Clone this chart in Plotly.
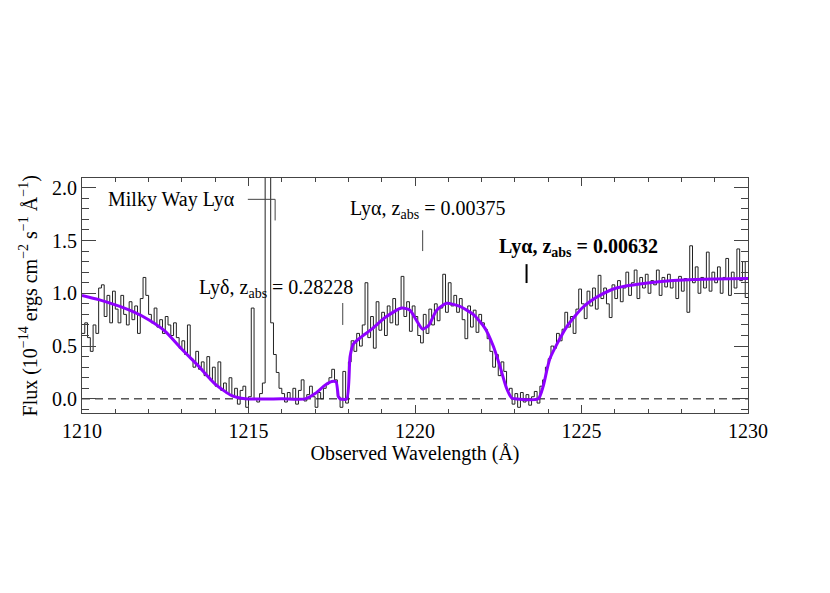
import numpy as np
import plotly.graph_objects as go

# ---------------- data ----------------
# observed flux, 12 bins per Angstrom, rows = 1210..1229 A
flux_rows = [
    [0.62, 0.72, 0.58, 0.45, 0.70, 0.62, 1.05, 1.08, 0.78, 0.98, 0.72, 1.02],  # 1210
    [0.85, 0.72, 0.98, 0.80, 0.70, 0.92, 0.75, 0.88, 0.62, 0.95, 1.15, 0.98],  # 1211
    [0.80, 0.72, 0.86, 0.68, 0.75, 0.62, 0.78, 0.70, 0.60, 0.72, 0.58, 0.48],  # 1212
    [0.55, 0.42, 0.70, 0.38, 0.30, 0.45, 0.28, 0.35, 0.22, 0.40, 0.18, 0.30],  # 1213
    [0.12, 0.35, 0.08, 0.15, 0.05, 0.20, 0.02, 0.10, -0.05, 0.08, 0.12, -0.08],  # 1214
    [0.02, 0.86, 0.00, -0.03, 0.05, 0.15, 2.60, 2.60, 0.72, 0.42, 0.25, 0.10],  # 1215
    [0.05, -0.03, 0.06, 0.00, 0.10, -0.05, 0.08, 0.18, -0.02, 0.04, 0.12, 0.02],  # 1216
    [-0.08, 0.06, 0.00, 0.10, 0.14, 0.20, 0.28, 0.18, 0.02, -0.08, 0.26, -0.04],  # 1217
    [0.35, 0.55, 0.45, 0.62, 0.50, 0.70, 1.10, 0.58, 0.78, 0.48, 0.92, 0.65],  # 1218
    [0.82, 0.60, 0.88, 0.72, 0.95, 0.70, 0.85, 1.16, 0.78, 0.92, 0.64, 0.88],  # 1219
    [0.78, 0.60, 0.53, 0.80, 0.62, 0.85, 0.70, 0.90, 0.74, 0.86, 1.18, 0.82],  # 1220
    [1.10, 0.88, 0.98, 0.82, 0.95, 0.75, 0.57, 0.88, 0.68, 0.84, 0.63, 0.80],  # 1221
    [0.72, 0.66, 0.57, 0.45, 0.30, 0.42, 0.22, 0.35, 0.26, 0.08, 0.10, -0.05],  # 1222
    [0.05, -0.08, 0.06, -0.03, 0.04, -0.06, 0.02, 0.07, -0.04, 0.12, 0.18, 0.30],  # 1223
    [0.38, 0.50, 0.48, 0.62, 0.55, 0.66, 0.82, 0.68, 0.78, 0.62, 0.85, 1.04],  # 1224
    [0.90, 0.76, 1.02, 0.88, 1.05, 0.85, 1.17, 0.95, 1.05, 0.90, 0.77, 1.08],  # 1225
    [0.95, 1.12, 0.92, 1.05, 1.20, 0.98, 1.10, 1.22, 0.95, 1.15, 1.05, 1.18],  # 1226
    [1.00, 1.12, 1.08, 1.22, 0.98, 1.15, 1.06, 1.18, 1.05, 1.12, 0.95, 1.16],  # 1227
    [1.02, 1.14, 0.82, 1.45, 1.10, 1.25, 1.00, 1.15, 1.05, 1.39, 1.02, 1.20],  # 1228
    [1.10, 1.25, 1.00, 1.15, 1.33, 0.98, 1.20, 1.05, 1.42, 1.12, 1.30, 0.96],  # 1229
]
flux_start = 1210.0
bins_per_A = 12

# model fit (purple)
model_wave = [1210.0, 1210.5, 1211.0, 1211.5, 1212.0, 1212.5, 1213.0, 1213.5, 1214.0,
              1214.5, 1214.9, 1216.0, 1216.7, 1217.0, 1217.3, 1217.5, 1217.63, 1217.7,
              1217.75, 1217.95, 1218.05, 1218.15, 1218.4, 1218.7, 1219.1, 1219.6, 1219.85,
              1220.05, 1220.23, 1220.42, 1220.65, 1220.95, 1221.35, 1221.75, 1222.1,
              1222.35, 1222.55, 1222.75, 1222.9, 1223.0, 1223.7, 1223.85, 1224.05,
              1224.55, 1225.05, 1225.55, 1226.05, 1227.05, 1228.05, 1229.0, 1230.0]
model_flux = [0.98, 0.94, 0.89, 0.83, 0.75, 0.64, 0.47, 0.31, 0.14,
              0.03, 0.0, 0.0, 0.0, 0.05, 0.13, 0.165, 0.16, 0.02,
              0.0, 0.0, 0.40, 0.52, 0.59, 0.66, 0.77, 0.86, 0.84,
              0.74, 0.66, 0.70, 0.84, 0.905, 0.875, 0.80, 0.67,
              0.50, 0.31, 0.10, 0.01, 0.0, 0.0, 0.12, 0.38,
              0.68, 0.87, 0.98, 1.05, 1.10, 1.125, 1.135, 1.14]

# line identifications
label_texts = ["Milky Way Lyα",
               "Lyδ, z<sub>abs</sub> = 0.28228",
               "Lyα, z<sub>abs</sub> = 0.00375",
               "<b>Lyα, z<sub>abs</sub> = 0.00632</b>"]
label_x = [1214.65, 1213.45, 1217.99, 1222.46]
label_y = [1.89, 1.05, 1.795, 1.437]
label_anchor = ["right", "left", "left", "left"]
marker_wave = [1215.80, 1217.83, 1220.23, 1223.35]
marker_top = [1.89, 0.908, 1.597, 1.276]
marker_bot = [1.69, 0.70, 1.40, 1.097]
marker_width = [1, 1, 1, 2]

xtick_vals = [1210, 1215, 1220, 1225, 1230]
ytick_vals = [0.0, 0.5, 1.0, 1.5, 2.0]

# ---------------- figure ----------------
flux = [v for row in flux_rows for v in row]
flux = flux + [flux[-1]]
wave = [flux_start + i / bins_per_A for i in range(len(flux))]

FONT = "Liberation Serif, Times New Roman, serif"
AX = "#444444"
FS = 20

fig = go.Figure()
fig.add_trace(go.Scatter(x=[1210, 1230], y=[0, 0], mode="lines",
                         line=dict(color="black", width=1, dash="8px,5px"),
                         hoverinfo="skip", showlegend=False))
fig.add_trace(go.Scatter(x=wave, y=flux, mode="lines",
                         line=dict(color="#222222", width=1, shape="hv"),
                         showlegend=False))
fig.add_trace(go.Scatter(x=model_wave, y=model_flux, mode="lines",
                         line=dict(color="#8F00FF", width=3, shape="spline", smoothing=0.6),
                         showlegend=False))

for t, x, y, a in zip(label_texts, label_x, label_y, label_anchor):
    fig.add_annotation(x=x, y=y, xref="x", yref="y", text=t, showarrow=False,
                       xanchor=a, yanchor="middle",
                       font=dict(family=FONT, size=FS, color="black"))

# Milky Way connector
fig.add_shape(type="line", xref="x", yref="y", x0=label_x[0] + 0.33, x1=marker_wave[0],
              y0=marker_top[0], y1=marker_top[0], line=dict(color=AX, width=1))
for w, t, b, lw in zip(marker_wave, marker_top, marker_bot, marker_width):
    fig.add_shape(type="line", xref="x", yref="y", x0=w, x1=w, y0=t, y1=b,
                  line=dict(color="black" if lw > 1 else AX, width=lw))

fig.add_annotation(xref="paper", yref="paper", x=-0.0796, y=0.5,
                   text="Flux (10<sup>−14</sup> ergs cm<sup>−2</sup> s<sup>−1</sup> Å<sup>−1</sup>)",
                   textangle=-90, showarrow=False, xanchor="center", yanchor="middle",
                   font=dict(family=FONT, size=FS, color="black"))

fig.update_layout(
    width=822, height=585,
    margin=dict(l=74, r=82, t=170, b=180),
    paper_bgcolor="white", plot_bgcolor="white",
    font=dict(family=FONT, size=FS, color="black"),
    xaxis=dict(range=[1210, 1230], tickvals=xtick_vals, ticks="inside", ticklen=8,
               tickcolor=AX, showline=True, linecolor=AX, linewidth=1, mirror="ticks",
               showgrid=False, zeroline=False,
               minor=dict(dtick=1, tick0=1210, ticks="inside", ticklen=4, tickcolor=AX, showgrid=False),
               title=dict(text="Observed Wavelength (Å)", standoff=4,
                          font=dict(family=FONT, size=FS))),
    yaxis=dict(range=[-0.134, 2.092], tickvals=ytick_vals, tickformat=".1f",
               ticks="inside", ticklen=14, tickcolor=AX, showline=True, linecolor=AX,
               linewidth=1, mirror="ticks", showgrid=False, zeroline=False,
               minor=dict(dtick=0.1, tick0=0, ticks="inside", ticklen=7, tickcolor=AX, showgrid=False)),
)

fig.write_html("out.html")
